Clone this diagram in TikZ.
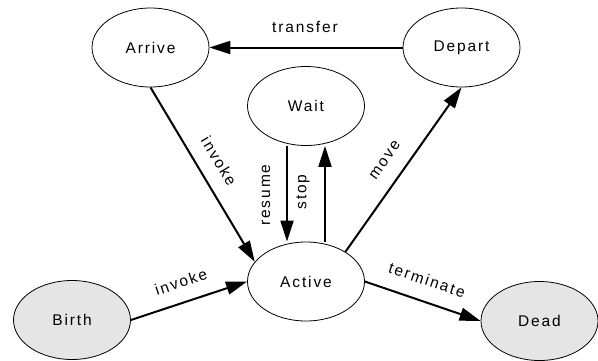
\documentclass[tikz,border=0pt]{standalone}
\usepackage{fontspec}
\setmainfont{Liberation Sans}[LetterSpace=12]
\usetikzlibrary{arrows.meta,shapes.geometric}
\tikzset{
  state/.style={ellipse, draw, line width=0.8pt, minimum width=117pt, minimum height=79pt, inner sep=0pt,
    font=\fontsize{15.5}{18}\selectfont},
  endstate/.style={state, fill=black!10},
  edge/.style={line width=2pt, -{Triangle[length=21pt,width=13pt]}},
  lbl/.style={font=\fontsize{15.5}{18}\selectfont, inner sep=1pt}
}
\begin{document}
\begin{tikzpicture}[x=1pt,y=-1pt]
\useasboundingbox (0,0) rectangle (598,360);
\node[state] (arrive) at (150.5,47.5) {Arrive};
\node[state] (depart) at (461.5,47.5) {Depart};
\node[state] (wait) at (306,106) {Wait};
\node[state] (active) at (306,281.5) {Active};
\node[endstate] (birth) at (72,320) {Birth};
\node[endstate] (dead) at (539.5,321) {Dead};

\draw[edge] (depart.west) -- (arrive.east);
\draw[edge] (arrive.south) -- (active.159);
\draw[edge] ([xshift=-19pt]wait.south) -- ([xshift=-19pt]active.north);
\draw[edge] ([xshift=19pt]active.north) -- ([xshift=19pt]wait.south);
\draw[edge] (active.37) -- (depart.south);
\draw[edge] (birth.east) -- (active.west);
\draw[edge] (active.east) -- (dead.west);

\node[lbl] (ltransfer) at (305,27) {transfer};
\node[lbl, rotate=-59] (linvoke1) at (219,161) {invoke};
\node[lbl, rotate=90] (lresume) at (266,195) {resume};
\node[lbl, rotate=90] (lstop) at (303,192) {stop};
\node[lbl, rotate=54.7] (lmove) at (385,160) {move};
\node[lbl, rotate=18.7] (linvoke2) at (181,282) {invoke};
\node[lbl, rotate=-18.4] (lterm) at (427,280) {terminate};
\end{tikzpicture}
\end{document}
